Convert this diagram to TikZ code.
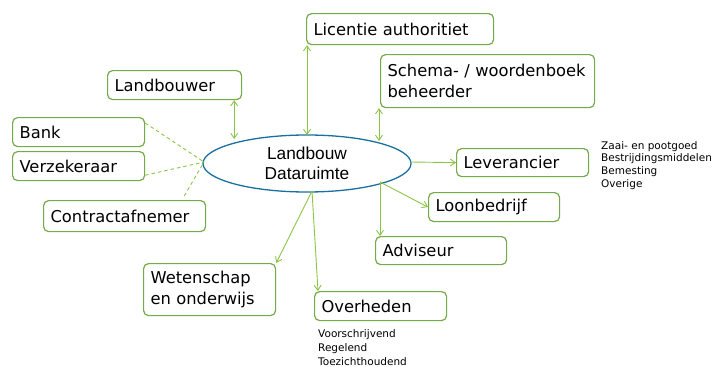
\documentclass[tikz,border=0pt]{standalone}
\usepackage{fontspec}
\setmainfont{DejaVu Sans}
\newfontfamily\ellfont{Liberation Sans}
\usetikzlibrary{arrows.meta,shapes.geometric}
\definecolor{boxgreen}{RGB}{116,170,72}
\definecolor{linkgreen}{RGB}{140,196,70}
\definecolor{ellblue}{RGB}{24,112,160}
\tikzset{
  actor/.style={draw=boxgreen, line width=1.2pt, rounded corners=5pt, fill=white,
    anchor=north west, align=left, inner xsep=7pt, inner ysep=0pt,
    font=\fontsize{16.3}{21.5}\selectfont, text=black},
  link/.style={draw=linkgreen, line width=0.9pt},
  tip/.style={-{Straight Barb[length=5pt,width=7pt]}},
  twotip/.style={{Straight Barb[length=5pt,width=7pt]}-{Straight Barb[length=5pt,width=7pt]}},
  weak/.style={draw=linkgreen, line width=0.9pt, dash pattern=on 3.5pt off 3pt},
  note/.style={anchor=base west, inner sep=0pt,
    font=\fontsize{10.5}{13}\selectfont, text=black}
}
\begin{document}
\begin{tikzpicture}[x=1pt,y=-1pt]
\useasboundingbox (0,0) rectangle (713,367);

% central data space
\node[draw=ellblue, line width=1.3pt, ellipse, minimum width=208pt, minimum height=57pt,
  inner sep=0pt, align=center, font=\ellfont\fontsize{17.3}{19.5}\selectfont]
  (hub) at (307,163.5) {Landbouw\\Dataruimte};

% participants
\node[actor, minimum width=187pt, text width=173pt, minimum height=31pt] (lic) at (306,13) {Licentie authoritiet};
\node[actor, minimum width=214pt, text width=200pt, minimum height=53pt] (sch) at (380,54) {Schema- / woordenboek\\beheerder};
\node[actor, minimum width=134pt, text width=120pt, minimum height=29pt] (lbw) at (107,70) {Landbouwer};
\node[actor, minimum width=132pt, text width=118pt, minimum height=29pt] (bank) at (12,117) {Bank};
\node[actor, minimum width=132pt, text width=118pt, minimum height=29pt] (verz) at (12,151) {Verzekeraar};
\node[actor, minimum width=162pt, text width=148pt, minimum height=31pt] (contr) at (43,200) {Contractafnemer};
\node[actor, minimum width=132pt, text width=118pt, minimum height=28pt] (lev) at (456,148) {Leverancier};
\node[actor, minimum width=131pt, text width=117pt, minimum height=29pt] (loon) at (428,192) {Loonbedrijf};
\node[actor, minimum width=131pt, text width=117pt, minimum height=28pt] (adv) at (375,236) {Adviseur};
\node[actor, minimum width=132pt, text width=118pt, minimum height=52pt] (wet) at (143,263) {Wetenschap\\en onderwijs};
\node[actor, minimum width=132pt, text width=118pt, minimum height=29pt] (ovh) at (314,291) {Overheden};

% side notes
\node[note] (lev1) at (601,149) {Zaai- en pootgoed};
\node[note] (lev2) at (601,161.7) {Bestrijdingsmiddelen};
\node[note] (lev3) at (601,174.4) {Bemesting};
\node[note] (lev4) at (601,187.1) {Overige};
\node[note] (ovh1) at (318,337) {Voorschrijvend};
\node[note] (ovh2) at (318,351.3) {Regelend};
\node[note] (ovh3) at (318,365.2) {Toezichthoudend};

% connection points
\coordinate (hubW) at (204,162);
\coordinate (hubLbw) at (233,139);
\coordinate (hubLic) at (307,135);
\coordinate (hubSch) at (379,141);
\coordinate (hubE) at (410,162);
\coordinate (hubSE) at (380,182);
\coordinate (hubS) at (312,191);

% two-way links
\draw[link, twotip] (lbw.south east) ++(-8,0) coordinate (lbwB) -- (lbwB |- hubLbw);
\draw[link, twotip] (lic.south west) ++(1,0) coordinate (licB) -- (licB |- hubLic);
\draw[link, twotip] (sch.south west) ++(-1,0) coordinate (schB) -- (schB |- hubSch);

% informal links
\draw[weak] (bank.north east) ++(0,6) -- (hubW);
\draw[weak] (verz.south east) ++(0,-6) -- (hubW);
\draw[weak] (contr.north east) ++(-22,-4) -- (hubW);

% one-way links
\draw[link, tip] (hubE) -- (lev.west);
\draw[link, tip] (hubSE) -- (loon.west);
\draw[link, tip] (hubSE) -- (hubSE |- adv.north);
\draw[link, tip] (hubS) -- (wet.north east);
\draw[link, tip] (hubS) -- (318,291);
\end{tikzpicture}
\end{document}
